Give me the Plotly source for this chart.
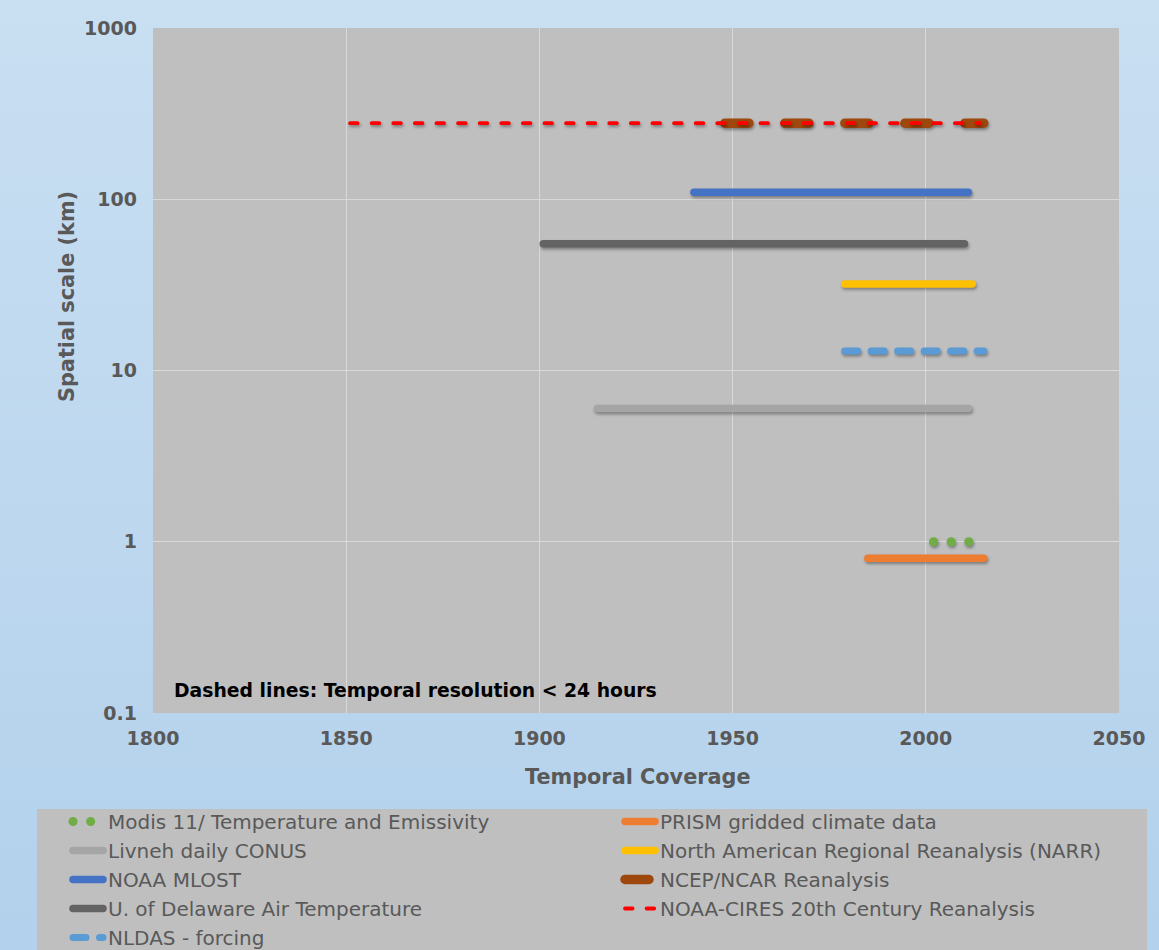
import json
import plotly.graph_objects as go

# Gridded temperature products: coverage period and spatial resolution
datasets = [
    "Modis 11/ Temperature and Emissivity",
    "PRISM gridded climate data",
    "Livneh daily CONUS",
    "North American Regional Reanalysis (NARR)",
    "NOAA MLOST",
    "NCEP/NCAR Reanalysis",
    "U. of Delaware Air Temperature",
    "NOAA-CIRES 20th Century Reanalysis",
    "NLDAS - forcing",
]
start_year = [2002, 1985, 1915, 1979, 1940, 1948, 1901, 1851, 1979]
end_year = [2012, 2015, 2011, 2012, 2011, 2015, 2010, 2014, 2015]
scale_km = [1, 0.8, 6, 32, 110, 278, 55, 278, 13]

x_ticks = [1800, 1850, 1900, 1950, 2000, 2050]
y_ticks = [0.1, 1, 10, 100, 1000]
y_tick_text = ["0.1", "1", "10", "100", "1000"]

# Line styling per series
colors = ["#70AD47", "#ED7D31", "#A5A5A5", "#FFC000", "#4472C4",
          "#9E480E", "#636363", "#FF0000", "#5B9BD5"]
widths = [9, 7.5, 7.5, 7.5, 7.5, 9.5, 7.5, 3.8, 7]
dashes = ["0.1px,17.5px", "solid", "solid", "solid", "solid",
          "24px,36px", "solid", "7.6px,14px", "13px,13.5px"]
# Legend column for each series (two-column legend)
legend_col = ["legend", "legend2", "legend", "legend2", "legend",
              "legend2", "legend", "legend2", "legend"]

FONT = "DejaVu Sans"
TXT = "#595959"
W, H = 1159, 950
L, R, T, B = 153, 40, 28, 237
PW, PH = W - L - R, H - T - B

fig = go.Figure()
for name, x0, x1, km, c, w, d, lg in zip(datasets, start_year, end_year,
                                         scale_km, colors, widths, dashes,
                                         legend_col):
    fig.add_trace(go.Scatter(
        x=[x0, x1], y=[km, km], mode="lines", name=name,
        line=dict(color=c, width=w, dash=d),
        legend=lg, hoverinfo="name",
    ))

def px_x(p):
    return (p - L) / PW

def px_y(p):
    return (H - B - p) / PH

legend_style = dict(
    orientation="v", xref="container", yref="container",
    xanchor="left", yanchor="top",
    bgcolor="rgba(0,0,0,0)", itemwidth=30, traceorder="normal",
    font=dict(family=FONT, size=20, color=TXT),
)

fig.update_layout(
    width=W, height=H,
    margin=dict(l=L, r=R, t=T, b=B, pad=0, autoexpand=False),
    paper_bgcolor="rgba(0,0,0,0)",
    plot_bgcolor="#BFBFBF",
    font=dict(family=FONT, color=TXT),
    xaxis=dict(
        range=[1800, 2050], tickvals=x_ticks, showgrid=True,
        gridcolor="#D9D9D9", gridwidth=1, zeroline=False, showline=False,
        ticks="", ticklabelstandoff=12, automargin=False,
        tickfont=dict(family=FONT, size=19, color=TXT, weight="bold"),
    ),
    yaxis=dict(
        type="log", range=[-1, 3], tickvals=y_ticks, ticktext=y_tick_text,
        showgrid=True, gridcolor="#D9D9D9", gridwidth=1, zeroline=False,
        showline=False, ticks="", ticklabelstandoff=15, automargin=False,
        tickfont=dict(family=FONT, size=19, color=TXT, weight="bold"),
    ),
    showlegend=True,
    legend=dict(x=68 / W, y=1 - 802 / H, **legend_style),
    legend2=dict(x=620 / W, y=1 - 802 / H, **legend_style),
    shapes=[dict(
        type="rect", xref="paper", yref="paper", layer="below",
        x0=px_x(37), x1=px_x(1147), y0=px_y(809), y1=px_y(960),
        fillcolor="#BFBFBF", line=dict(width=0),
    )],
    annotations=[
        dict(text="Temporal Coverage", xref="paper", yref="paper",
             x=px_x(638), y=px_y(777), xanchor="center", yanchor="middle",
             showarrow=False,
             font=dict(family=FONT, size=20.8, color=TXT, weight="bold")),
        dict(text="Spatial scale (km)", xref="paper", yref="paper",
             x=px_x(67), y=px_y(297), xanchor="center", yanchor="middle",
             textangle=-90, showarrow=False,
             font=dict(family=FONT, size=20.8, color=TXT, weight="bold")),
        dict(text="Dashed lines: Temporal resolution < 24 hours",
             xref="paper", yref="paper", x=px_x(172), y=px_y(690),
             xanchor="left", yanchor="middle", showarrow=False,
             font=dict(family=FONT, size=18.8, color="#000000", weight="bold")),
    ],
)

css = (
    "body{margin:0;background:linear-gradient(#C9DFF2,#B3D1EC);}"
    ".js-line{stroke-linecap:round;}"
    ".scatterlayer .trace{filter:drop-shadow(1.5px 2px 1.5px rgba(0,0,0,0.35));}"
)
post = ("var s=document.createElement('style');s.textContent="
        + json.dumps(css) + ";document.head.appendChild(s);")

fig.write_html("out.html", post_script=post)
